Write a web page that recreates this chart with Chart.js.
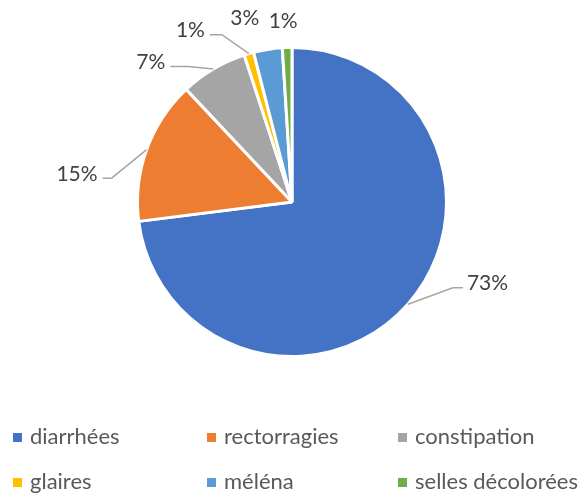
<!DOCTYPE html>
<html>
<head>
<meta charset="utf-8">
<script src="https://cdn.jsdelivr.net/npm/chart.js@4"></script>
<style>
  html, body { margin: 0; padding: 0; background: #fff; }
</style>
</head>
<body>
<canvas id="symptomChart" width="582" height="498"></canvas>
<script>
// Data
const categories = ["diarrhées", "rectorragies", "constipation", "glaires", "méléna", "selles décolorées"];
const percentValues = [73, 15, 7, 1, 3, 1];
const sliceColors = ["#4472C4", "#ED7D31", "#A5A5A5", "#FFC000", "#5B9BD5", "#70AD47"];

// Label placement per slice (offsets from the slice's outer edge point)
const labelLayout = [
  { bend: [45, -16.5], tail: 10 },
  { bend: [-35, 28.5], tail: -9 },
  { bend: [-25, -2.5], tail: -18 },
  { bend: [-27, -19], tail: -12 },
  { text: [-23, -31] },
  { text: [-4, -26] },
];

const FONT = "Lato, 'Open Sans', sans-serif";

// Draws the outside percentage labels with leader lines
const outsideLabels = {
  id: "outsideLabels",
  afterDatasetsDraw(chart) {
    const ctx = chart.ctx;
    const meta = chart.getDatasetMeta(0);
    ctx.save();
    ctx.font = "21px " + FONT;
    ctx.fillStyle = "#404040";
    ctx.strokeStyle = "#A6A6A6";
    ctx.lineWidth = 1.5;
    meta.data.forEach(function (arc, i) {
      const p = arc.getProps(["x", "y", "startAngle", "endAngle", "outerRadius"], true);
      const mid = (p.startAngle + p.endAngle) / 2;
      const ex = p.x + Math.cos(mid) * p.outerRadius;
      const ey = p.y + Math.sin(mid) * p.outerRadius;
      const lay = labelLayout[i];
      const text = percentValues[i] + "%";
      if (lay.bend) {
        const bx = ex + lay.bend[0];
        const by = ey + lay.bend[1];
        const tx = bx + lay.tail;
        ctx.beginPath();
        ctx.moveTo(ex, ey);
        ctx.lineTo(bx, by);
        ctx.lineTo(tx, by);
        ctx.stroke();
        const right = lay.tail > 0;
        ctx.textAlign = right ? "left" : "right";
        ctx.textBaseline = "middle";
        ctx.fillText(text, tx + (right ? 4 : -5), by - 4);
      } else {
        ctx.textAlign = "center";
        ctx.textBaseline = "middle";
        ctx.fillText(text, ex + lay.text[0], ey + lay.text[1]);
      }
    });
    ctx.restore();
  },
};

// Legend drawn as a 3-column grid below the pie
const gridLegend = {
  id: "gridLegend",
  afterDraw(chart) {
    const ctx = chart.ctx;
    const colX = [13, 207, 398];
    const rowY = [437, 482];
    ctx.save();
    ctx.font = "22px " + FONT;
    ctx.textAlign = "left";
    ctx.textBaseline = "middle";
    chart.data.labels.forEach(function (label, i) {
      const x = colX[i % 3];
      const y = rowY[Math.floor(i / 3)];
      ctx.fillStyle = chart.data.datasets[0].backgroundColor[i];
      ctx.fillRect(x, y - 4, 9, 9);
      ctx.fillStyle = "#595959";
      ctx.fillText(label, x + 17, y);
    });
    ctx.restore();
  },
};

new Chart(document.getElementById("symptomChart"), {
  type: "pie",
  data: {
    labels: categories,
    datasets: [
      {
        data: percentValues,
        backgroundColor: sliceColors,
        borderColor: "#FFFFFF",
        borderWidth: 3,
      },
    ],
  },
  options: {
    responsive: false,
    animation: false,
    layout: {
      padding: { top: 46, bottom: 140, left: 2, right: 0 },
    },
    plugins: {
      legend: { display: false },
      tooltip: { enabled: false },
    },
  },
  plugins: [outsideLabels, gridLegend],
});
</script>
</body>
</html>
